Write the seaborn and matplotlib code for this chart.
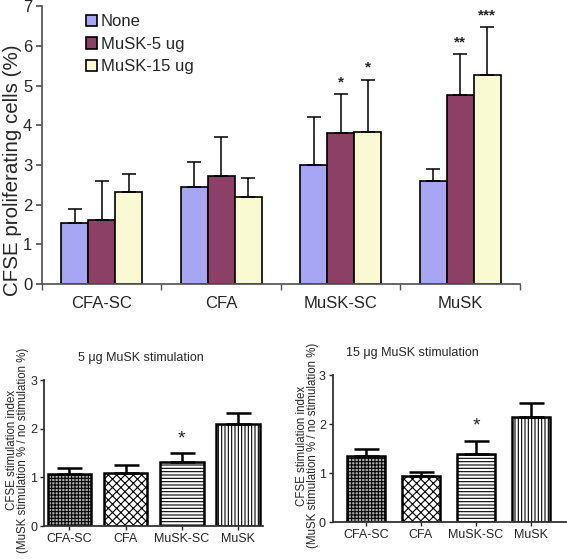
import matplotlib
matplotlib.use("Agg")
import matplotlib.pyplot as plt
import pandas as pd
import seaborn as sns

# data
groups = ["CFA-SC", "CFA", "MuSK-SC", "MuSK"]
treatments = ["None", "MuSK-5 ug", "MuSK-15 ug"]
none_mean = [1.53, 2.45, 3.01, 2.59]
none_err = [0.36, 0.62, 1.19, 0.31]
musk5_mean = [1.62, 2.72, 3.81, 4.77]
musk5_err = [0.98, 0.98, 0.98, 1.02]
musk15_mean = [2.31, 2.20, 3.83, 5.26]
musk15_err = [0.47, 0.46, 1.32, 1.22]
stars5 = ["", "", "*", "**"]
stars15 = ["", "", "*", "***"]

si5_mean = [1.06, 1.10, 1.31, 2.09]
si5_err = [0.13, 0.16, 0.19, 0.24]
si15_mean = [1.35, 0.94, 1.38, 2.15]
si15_err = [0.14, 0.08, 0.28, 0.29]
si_stars = ["", "", "*", ""]

colors = ["#9999FF", "#993366", "#FFFFCC"]
hatches = ["+++++", "xxxx", "-----", "|||||"]

sns.set_theme(style="white")
plt.rcParams["font.family"] = ["Liberation Sans", "DejaVu Sans"]
plt.rcParams["hatch.linewidth"] = 0.8

df = pd.DataFrame({
    "group": groups * 3,
    "treatment": [t for t in treatments for _ in groups],
    "value": none_mean + musk5_mean + musk15_mean,
})

fig = plt.figure(figsize=(5.67, 5.59), dpi=100)

# top chart
ax = fig.add_axes([0.074, 0.492, 0.843, 0.497])
sns.barplot(data=df, x="group", y="value", hue="treatment", order=groups,
            hue_order=treatments, palette=colors, width=0.68, errorbar=None,
            edgecolor="black", linewidth=1.2, ax=ax, legend=True)
errs = [none_err, musk5_err, musk15_err]
stars = [None, stars5, stars15]
bar_conts = list(ax.containers)
for k, cont in enumerate(bar_conts):
    for j, bar in enumerate(cont):
        xc = bar.get_x() + bar.get_width() / 2
        h = bar.get_height()
        ax.errorbar(xc, h, yerr=[[0], [errs[k][j]]], fmt="none", ecolor="black",
                    elinewidth=1.1, capsize=5, capthick=1.1)
        if stars[k] is not None and stars[k][j]:
            ax.text(xc, h + errs[k][j] + 0.12, stars[k][j], ha="center",
                    va="bottom", fontsize=11, fontweight="bold")
ax.set_xlim(-0.5, 3.5)
ax.set_ylim(0, 7)
ax.set_yticks(range(0, 8))
ax.set_xticks([-0.5, 0.5, 1.5, 2.5, 3.5], minor=True)
ax.tick_params(axis="x", which="major", length=0, labelsize=12, pad=9)
ax.tick_params(axis="x", which="minor", length=4, bottom=True, color="#555555")
ax.tick_params(axis="y", length=4, left=True, labelsize=12, pad=3,
               color="#555555")
ax.set_xlabel("")
ax.set_ylabel("CFSE proliferating cells (%)", fontsize=14.8)
ax.yaxis.set_label_coords(-0.042, 0.41)
for s in ["top", "right"]:
    ax.spines[s].set_visible(False)
for s in ["left", "bottom"]:
    ax.spines[s].set_color("#555555")
leg = ax.legend(loc="upper left", bbox_to_anchor=(0.06, 1.025), frameon=False,
                fontsize=12, handlelength=0.7, handleheight=0.7,
                handletextpad=0.2, labelspacing=0.45)


def small_chart(rect, means, errs_, title, title_x, width, xlim, lab_x):
    a = fig.add_axes(rect)
    d = pd.DataFrame({"group": groups, "value": means})
    sns.barplot(data=d, x="group", y="value", order=groups, color="white",
                width=width, errorbar=None, edgecolor="black", linewidth=1.8,
                ax=a)
    bars = list(a.patches)
    for j, bar in enumerate(bars):
        bar.set_hatch(hatches[j])
        bar.set_facecolor("#b0b0b0" if j == 0 else "white")
        xc = bar.get_x() + bar.get_width() / 2
        a.errorbar(xc, means[j], yerr=[[0], [errs_[j]]], fmt="none",
                   ecolor="black", elinewidth=1.8, capsize=9, capthick=1.8)
        if si_stars[j]:
            a.text(xc, means[j] + errs_[j] + 0.12, si_stars[j], ha="center",
                   va="bottom", fontsize=14)
    a.set_ylim(0, 3)
    a.set_xlim(*xlim)
    a.set_yticks([0, 1, 2, 3])
    a.tick_params(axis="both", length=3, width=1, labelsize=9, pad=2,
                  left=True, bottom=True)
    a.set_xlabel("")
    a.set_ylabel("CFSE stimulation index\n(MuSK stimulation % / no stimulation %)",
                 fontsize=8.3, linespacing=0.9)
    a.yaxis.set_label_coords(lab_x, 0.52)
    a.set_title(title, fontsize=9, x=title_x, pad=14)
    for s in ["top", "right"]:
        a.spines[s].set_visible(False)
    for s in ["left", "bottom"]:
        a.spines[s].set_linewidth(1.3)
        a.spines[s].set_color("#333333")
    return a


small_chart([0.078, 0.059, 0.386, 0.261], si5_mean, si5_err,
            "5 \u03bcg MuSK stimulation", 0.44, 0.78, (-0.45, 3.45), -0.068)
small_chart([0.587, 0.066, 0.413, 0.263], si15_mean, si15_err,
            "15 \u03bcg MuSK stimulation", 0.34, 0.69, (-0.6, 3.65), -0.058)

fig.savefig("out.png", dpi=100)
